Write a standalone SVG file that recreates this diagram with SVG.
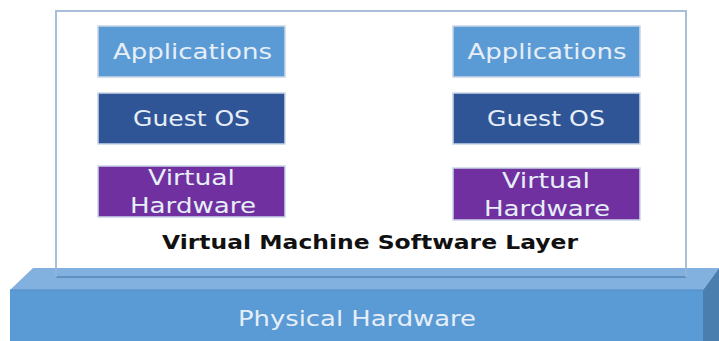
<svg xmlns="http://www.w3.org/2000/svg" width="719" height="341" viewBox="0 0 719 341">
<style>
.box{stroke:#c9d6e8;stroke-width:1.5}
.app{fill:#5b9bd5}
.os{fill:#2f5597}
.vh{fill:#7030a0}
.lbl{font-family:"DejaVu Sans",sans-serif;font-size:21px;fill:#e6eef8;text-anchor:middle}
</style>
<g id="vm-layer">
<rect x="56" y="11" width="630" height="266" fill="#ffffff" stroke="#a9bfd8" stroke-width="2"/>
<text x="370" y="249" font-family="'DejaVu Sans',sans-serif" font-weight="bold" font-size="19" fill="#111" text-anchor="middle" textLength="416" lengthAdjust="spacingAndGlyphs">Virtual Machine Software Layer</text>
</g>
<g id="physical-hardware">
<polygon points="10,290 33,268 719,268 703,290" fill="#74a9db" fill-opacity="0.9"/>
<polygon points="703,290 719,268 719,341 703,341" fill="#4a7eae"/>
<rect x="10" y="290" width="693" height="51" fill="#5b9bd5"/>
<line x1="10" y1="290" x2="703" y2="290" stroke="#4f8cc4" stroke-width="1"/>
<line x1="56" y1="277" x2="686" y2="277" stroke="#5e90c2" stroke-width="2"/>
<line x1="56" y1="268" x2="56" y2="277" stroke="#8fb3d9" stroke-width="2"/>
<line x1="686" y1="268" x2="686" y2="277" stroke="#8fb3d9" stroke-width="2"/>
<text x="357" y="326" class="lbl" textLength="238" lengthAdjust="spacingAndGlyphs">Physical Hardware</text>
</g>
<g id="app-left"><rect class="box app" x="98" y="26" width="187" height="51"/><text class="lbl" x="192.5" y="59" textLength="159" lengthAdjust="spacingAndGlyphs">Applications</text></g>
<g id="app-right"><rect class="box app" x="453" y="26" width="187" height="51"/><text class="lbl" x="547" y="59" textLength="159" lengthAdjust="spacingAndGlyphs">Applications</text></g>
<g id="os-left"><rect class="box os" x="98" y="93" width="187" height="51"/><text class="lbl" x="191.5" y="126" textLength="117" lengthAdjust="spacingAndGlyphs">Guest OS</text></g>
<g id="os-right"><rect class="box os" x="453" y="93" width="187" height="51"/><text class="lbl" x="546" y="126" textLength="118" lengthAdjust="spacingAndGlyphs">Guest OS</text></g>
<g id="vh-left"><rect class="box vh" x="98" y="166" width="187" height="51"/><text class="lbl" x="191.5" y="185" textLength="87" lengthAdjust="spacingAndGlyphs">Virtual</text><text class="lbl" x="193" y="213" textLength="126" lengthAdjust="spacingAndGlyphs">Hardware</text></g>
<g id="vh-right"><rect class="box vh" x="453" y="168" width="187" height="52"/><text class="lbl" x="546" y="188" textLength="88" lengthAdjust="spacingAndGlyphs">Virtual</text><text class="lbl" x="547" y="216" textLength="126" lengthAdjust="spacingAndGlyphs">Hardware</text></g>
<g id="connectors"></g>
</svg>
